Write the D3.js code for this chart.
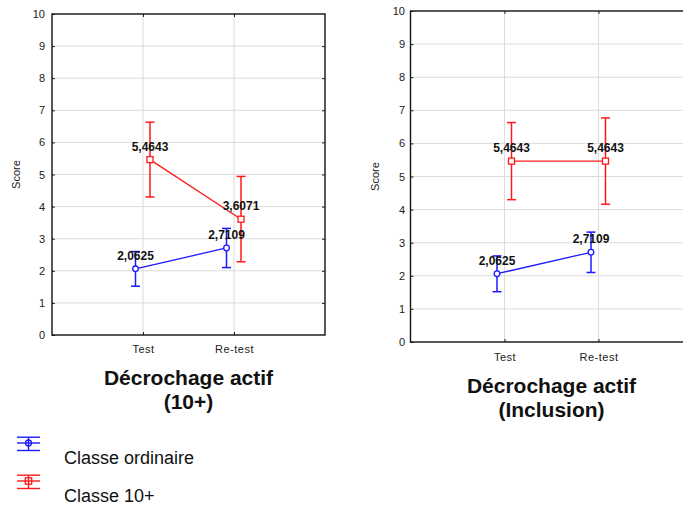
<!DOCTYPE html>
<html>
<head>
<meta charset="utf-8">
<script src="https://cdn.jsdelivr.net/npm/d3@7"></script>
<style>
  html, body { margin: 0; padding: 0; background: #fff; }
  svg { display: block; font-family: "Liberation Sans", Arial, sans-serif; }
</style>
</head>
<body>
<svg id="chart" width="683" height="506"></svg>
<script>
// ---- data ----
const categories = ["Test", "Re-test"];
const yTicks = [0, 1, 2, 3, 4, 5, 6, 7, 8, 9, 10];
const seriesNames = ["Classe ordinaire", "Classe 10+"];

// Panel 1: Décrochage actif (10+)
const ordMean1 = [2.0625, 2.7109];
const ordLow1  = [1.52, 2.10];
const ordHigh1 = [2.60, 3.32];
const c10Mean1 = [5.4643, 3.6071];
const c10Low1  = [4.30, 2.28];
const c10High1 = [6.63, 4.94];

// Panel 2: Décrochage actif (Inclusion)
const ordMean2 = [2.0625, 2.7109];
const ordLow2  = [1.52, 2.10];
const ordHigh2 = [2.60, 3.32];
const c10Mean2 = [5.4643, 5.4643];
const c10Low2  = [4.30, 4.16];
const c10High2 = [6.63, 6.77];

const titles1 = ["Décrochage actif", "(10+)"];
const titles2 = ["Décrochage actif", "(Inclusion)"];
const yLabel = "Score";

// ---- drawing ----
const BLUE = "#1a1aff", RED = "#ff1a1a";
const svg = d3.select("#chart");
const fmt = v => d3.format(".4f")(v).replace(".", ",");

function panel(cfg) {
  const g = svg.append("g");
  const x = d3.scalePoint().domain(categories).range([cfg.left, cfg.right]).padding(1);
  const y = d3.scaleLinear().domain([0, 10]).range([cfg.bottom, cfg.top]);

  // grid
  g.append("g").selectAll("line.h").data(yTicks.slice(1, -1)).join("line")
    .attr("x1", cfg.left).attr("x2", cfg.right)
    .attr("y1", d => y(d)).attr("y2", d => y(d))
    .attr("stroke", "#dcdcdc").attr("stroke-width", 1);
  g.append("g").selectAll("line.v").data(categories).join("line")
    .attr("x1", d => x(d)).attr("x2", d => x(d))
    .attr("y1", cfg.top).attr("y2", cfg.bottom)
    .attr("stroke", "#dcdcdc").attr("stroke-width", 1);

  // axes (inward ticks)
  const ax = g.append("g").attr("transform", `translate(${cfg.left},0)`)
    .call(d3.axisLeft(y).tickValues(yTicks).tickSizeInner(-3).tickSizeOuter(0).tickPadding(cfg.yPad));
  ax.select(".domain").remove();
  ax.selectAll("text").attr("font-size", 11).attr("fill", "#222").attr("font-family", "Liberation Sans, Arial, sans-serif");
  ax.selectAll("line").attr("stroke", "#222");

  const axr = g.append("g").attr("transform", `translate(${cfg.right},0)`)
    .call(d3.axisRight(y).tickValues(yTicks.slice(1, -1)).tickSizeInner(-3).tickSizeOuter(0).tickFormat(""));
  axr.select(".domain").remove();
  axr.selectAll("line").attr("stroke", "#222");

  const bx = g.append("g").attr("transform", `translate(0,${cfg.bottom})`)
    .call(d3.axisBottom(x).tickSizeInner(-3).tickSizeOuter(0).tickPadding(cfg.xPad));
  bx.select(".domain").remove();
  bx.selectAll("text").attr("font-size", 11).attr("fill", "#222").attr("letter-spacing", "0.5px")
    .attr("font-family", "Liberation Sans, Arial, sans-serif");
  bx.selectAll("line").attr("stroke", "#222");

  const tx = g.append("g").attr("transform", `translate(0,${cfg.top})`)
    .call(d3.axisTop(x).tickSizeInner(-3).tickSizeOuter(0).tickFormat(""));
  tx.select(".domain").remove();
  tx.selectAll("line").attr("stroke", "#222");

  // frame
  g.append("rect").attr("x", cfg.left).attr("y", cfg.top)
    .attr("width", cfg.right - cfg.left).attr("height", cfg.bottom - cfg.top)
    .attr("fill", "none").attr("stroke", "#111").attr("stroke-width", 1.4);

  // y label
  g.append("text")
    .attr("transform", `translate(${cfg.yLabelX},${(cfg.top + cfg.bottom) / 2}) rotate(-90)`)
    .attr("text-anchor", "middle").attr("font-size", 11).attr("fill", "#222")
    .text(yLabel);

  // series
  function series(mean, low, high, color, off, marker) {
    const pts = categories.map((c, i) => ({ c, m: mean[i], lo: low[i], hi: high[i], px: x(c) + off }));
    const sg = g.append("g");
    sg.append("path").datum(pts)
      .attr("d", d3.line().x(d => d.px).y(d => y(d.m)))
      .attr("fill", "none").attr("stroke", color).attr("stroke-width", 1.3);
    const eb = sg.selectAll("g.eb").data(pts).join("g");
    eb.append("line").attr("x1", d => d.px).attr("x2", d => d.px)
      .attr("y1", d => y(d.lo)).attr("y2", d => y(d.hi))
      .attr("stroke", color).attr("stroke-width", 1.5);
    eb.append("line").attr("x1", d => d.px - 4.5).attr("x2", d => d.px + 4.5)
      .attr("y1", d => y(d.lo)).attr("y2", d => y(d.lo))
      .attr("stroke", color).attr("stroke-width", 1.5);
    eb.append("line").attr("x1", d => d.px - 4.5).attr("x2", d => d.px + 4.5)
      .attr("y1", d => y(d.hi)).attr("y2", d => y(d.hi))
      .attr("stroke", color).attr("stroke-width", 1.5);
    if (marker === "circle") {
      eb.append("circle").attr("cx", d => d.px).attr("cy", d => y(d.m)).attr("r", 2.8)
        .attr("fill", "#fff").attr("stroke", color).attr("stroke-width", 1.3);
    } else {
      eb.append("rect").attr("x", d => d.px - 3).attr("y", d => y(d.m) - 3)
        .attr("width", 6).attr("height", 6)
        .attr("fill", "#fff").attr("stroke", color).attr("stroke-width", 1.3);
    }
    return pts;
  }
  const p1 = series(cfg.ordMean, cfg.ordLow, cfg.ordHigh, BLUE, -7.5, "circle");
  const p2 = series(cfg.c10Mean, cfg.c10Low, cfg.c10High, RED, 7, "square");

  // value labels
  g.append("g").selectAll("text").data(p1.concat(p2)).join("text")
    .attr("x", d => d.px).attr("y", d => y(d.m) - 9)
    .attr("text-anchor", "middle").attr("font-size", 12).attr("font-weight", "bold")
    .attr("fill", "#111").text(d => fmt(d.m));

  // title
  const cx = (cfg.left + cfg.right) / 2;
  g.append("g").selectAll("text").data(cfg.titles).join("text")
    .attr("x", cx).attr("y", (d, i) => cfg.titleY + i * 23.5)
    .attr("text-anchor", "middle").attr("font-size", 21).attr("font-weight", "bold")
    .attr("fill", "#111").text(d => d);
}

panel({
  left: 52, right: 325, top: 14, bottom: 335, yPad: 7, xPad: 10, yLabelX: 20,
  ordMean: ordMean1, ordLow: ordLow1, ordHigh: ordHigh1,
  c10Mean: c10Mean1, c10Low: c10Low1, c10High: c10High1,
  titles: titles1, titleY: 385
});
panel({
  left: 410.5, right: 692.5, top: 11, bottom: 342, yPad: 5.5, xPad: 11, yLabelX: 379,
  ordMean: ordMean2, ordLow: ordLow2, ordHigh: ordHigh2,
  c10Mean: c10Mean2, c10Low: c10Low2, c10High: c10High2,
  titles: titles2, titleY: 393
});

// legend
const legendColors = [BLUE, RED];
const legendMarkers = ["circle", "square"];
const legendY = [443, 481]; // middle line of icon
const lg = svg.append("g");
seriesNames.forEach((name, i) => {
  const c = legendColors[i], my = legendY[i], cx = 28.5;
  const g = lg.append("g");
  [my - 5.8, my, my + 7.5].forEach(yy => {
    g.append("line").attr("x1", 17).attr("x2", 40).attr("y1", yy).attr("y2", yy)
      .attr("stroke", c).attr("stroke-width", 1.4);
  });
  g.append("line").attr("x1", cx).attr("x2", cx).attr("y1", my - 5.8).attr("y2", my + 7.5)
    .attr("stroke", c).attr("stroke-width", 1.4);
  if (legendMarkers[i] === "circle") {
    g.append("circle").attr("cx", cx).attr("cy", my).attr("r", 3)
      .attr("fill", "none").attr("stroke", c).attr("stroke-width", 1.3);
  } else {
    g.append("rect").attr("x", cx - 3.2).attr("y", my - 3.2).attr("width", 6.4).attr("height", 6.4)
      .attr("fill", "none").attr("stroke", c).attr("stroke-width", 1.3);
  }
  g.append("text").attr("x", 64).attr("y", my + 21.3).attr("font-size", 18).attr("fill", "#111").text(name);
});
</script>
</body>
</html>
